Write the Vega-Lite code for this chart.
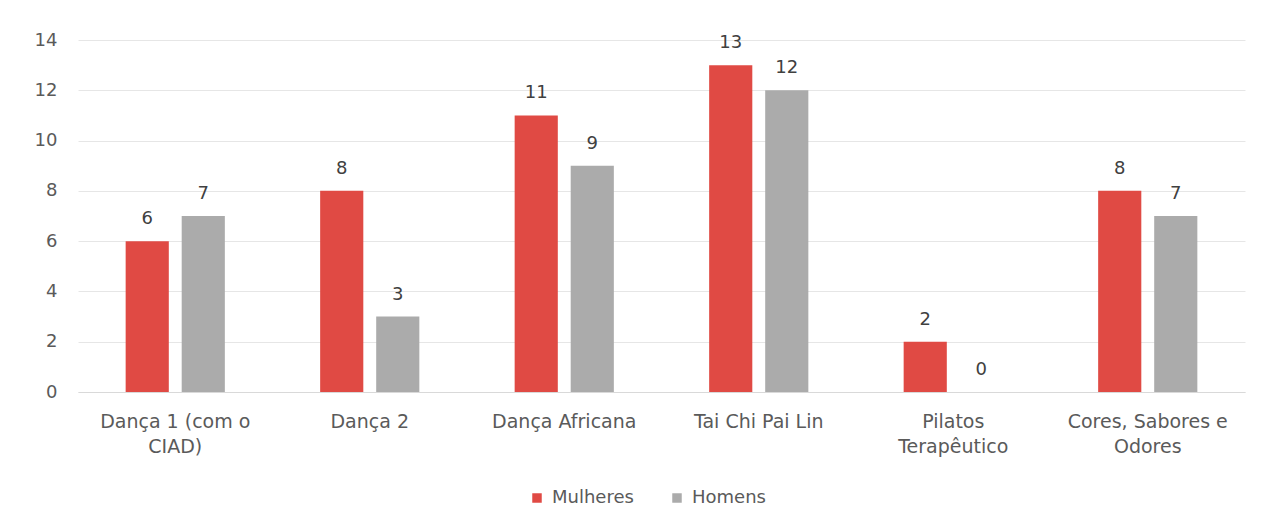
{
  "$schema": "https://vega.github.io/schema/vega-lite/v6.json",
  "autosize": "none",
  "width": 1167,
  "height": 352,
  "padding": {"left": 78, "top": 40, "right": 21, "bottom": 132},
  "background": "white",
  "config": {
    "view": {"stroke": null},
    "font": "DejaVu Sans",
    "text": {"font": "DejaVu Sans"},
    "axis": {"labelFont": "DejaVu Sans"},
    "legend": {"labelFont": "DejaVu Sans"}
  },
  "data": {
    "values": [
      {"atividade": "Dança 1 (com o CIAD)", "sexo": "Mulheres", "valor": 6},
      {"atividade": "Dança 1 (com o CIAD)", "sexo": "Homens", "valor": 7},
      {"atividade": "Dança 2", "sexo": "Mulheres", "valor": 8},
      {"atividade": "Dança 2", "sexo": "Homens", "valor": 3},
      {"atividade": "Dança Africana", "sexo": "Mulheres", "valor": 11},
      {"atividade": "Dança Africana", "sexo": "Homens", "valor": 9},
      {"atividade": "Tai Chi Pai Lin", "sexo": "Mulheres", "valor": 13},
      {"atividade": "Tai Chi Pai Lin", "sexo": "Homens", "valor": 12},
      {"atividade": "Pilatos Terapêutico", "sexo": "Mulheres", "valor": 2},
      {"atividade": "Pilatos Terapêutico", "sexo": "Homens", "valor": 0},
      {"atividade": "Cores, Sabores e Odores", "sexo": "Mulheres", "valor": 8},
      {"atividade": "Cores, Sabores e Odores", "sexo": "Homens", "valor": 7}
    ]
  },
  "encoding": {
    "x": {
      "field": "atividade",
      "type": "nominal",
      "sort": null,
      "scale": {"paddingInner": 0.49, "paddingOuter": 0.245},
      "axis": {
        "title": null,
        "labelAngle": 0,
        "ticks": false,
        "domainColor": "#d9d9d9",
        "labelColor": "#5a5a5a",
        "labelFontSize": 19,
        "labelPadding": 20,
        "labelLineHeight": 25,
        "labelExpr": "datum.label == 'Dança 1 (com o CIAD)' ? ['Dança 1 (com o', 'CIAD)'] : datum.label == 'Pilatos Terapêutico' ? ['Pilatos', 'Terapêutico'] : datum.label == 'Cores, Sabores e Odores' ? ['Cores, Sabores e', 'Odores'] : datum.label"
      }
    },
    "xOffset": {
      "field": "sexo",
      "type": "nominal",
      "sort": ["Mulheres", "Homens"],
      "scale": {"paddingInner": 0.23, "paddingOuter": 0}
    },
    "y": {
      "field": "valor",
      "type": "quantitative",
      "scale": {"domain": [0, 14]},
      "axis": {
        "title": null,
        "values": [0, 2, 4, 6, 8, 10, 12, 14],
        "domain": false,
        "ticks": false,
        "gridColor": "#e6e6e6",
        "labelColor": "#5a5a5a",
        "labelFontSize": 18,
        "labelPadding": 21
      }
    }
  },
  "layer": [
    {
      "mark": {"type": "bar"},
      "encoding": {
        "color": {
          "field": "sexo",
          "type": "nominal",
          "sort": ["Mulheres", "Homens"],
          "scale": {"domain": ["Mulheres", "Homens"], "range": ["#e04a44", "#ababab"]},
          "legend": {
            "title": null,
            "orient": "none",
            "legendX": 450,
            "legendY": 449,
            "direction": "horizontal",
            "symbolType": "square",
            "symbolSize": 90,
            "labelFontSize": 18,
            "labelColor": "#5a5a5a",
            "labelOffset": 6,
            "columnPadding": 34
          }
        }
      }
    },
    {
      "mark": {"type": "text", "fontSize": 18, "color": "#404040", "baseline": "alphabetic", "dy": -17},
      "encoding": {
        "text": {"field": "valor", "type": "quantitative"}
      }
    }
  ]
}
